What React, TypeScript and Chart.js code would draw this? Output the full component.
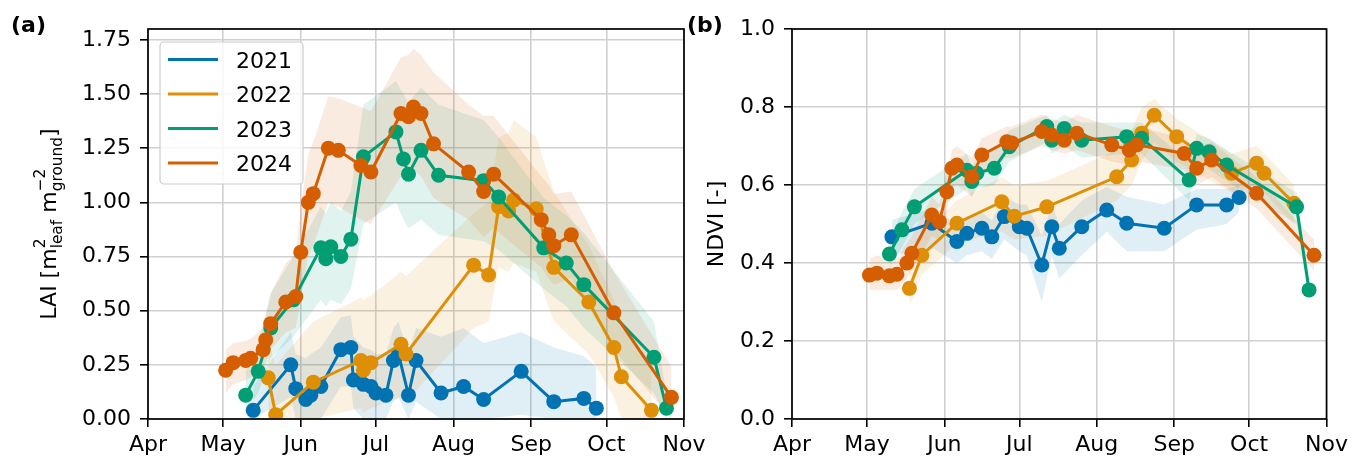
import React, { useEffect, useRef } from "react";
import { Chart, registerables } from "chart.js";

Chart.register(...registerables);

// ---------- axes ----------
const monthTickDays = [0, 30, 61, 91, 122, 153, 183, 214];
const monthTickLabels = ["Apr", "May", "Jun", "Jul", "Aug", "Sep", "Oct", "Nov"];
const laiTickValues = [0, 0.25, 0.5, 0.75, 1.0, 1.25, 1.5, 1.75];
const ndviTickValues = [0, 0.2, 0.4, 0.6, 0.8, 1.0];
const years = ["2021", "2022", "2023", "2024"];
const colors = ["#0173B2", "#DE8F05", "#029E73", "#D55E00"];

// ---------- (a) LAI ----------
const lai2021Dates = ["05-13", "05-28", "05-30", "06-03", "06-05", "06-09", "06-17", "06-21", "06-22", "06-26", "06-29", "07-01", "07-05", "07-08", "07-10", "07-14", "07-17", "07-27", "08-05", "08-13", "08-28", "09-10", "09-22", "09-27"];
const lai2021 = [0.04, 0.25, 0.14, 0.09, 0.11, 0.15, 0.32, 0.33, 0.18, 0.16, 0.15, 0.12, 0.11, 0.27, 0.30, 0.11, 0.27, 0.12, 0.15, 0.09, 0.22, 0.08, 0.095, 0.05];
const lai2021Lo = [0.0, 0.1, 0.0, 0.0, 0.0, 0.0, 0.15, 0.15, 0.05, 0.0, 0.0, 0.0, 0.0, 0.08, 0.1, 0.0, 0.08, 0.0, 0.0, 0.0, 0.02, 0.0, 0.0, 0.0];
const lai2021Hi = [0.15, 0.40, 0.30, 0.28, 0.30, 0.33, 0.47, 0.48, 0.38, 0.33, 0.32, 0.30, 0.30, 0.42, 0.45, 0.30, 0.42, 0.38, 0.42, 0.35, 0.40, 0.33, 0.29, 0.24];

const lai2022Dates = ["05-19", "05-22", "06-06", "06-25", "06-26", "06-29", "07-11", "07-13", "08-09", "08-15", "08-19", "08-23", "08-25", "09-03", "09-10", "09-24", "10-04", "10-07", "10-19"];
const lai2022 = [0.19, 0.02, 0.17, 0.27, 0.225, 0.26, 0.345, 0.30, 0.71, 0.665, 0.98, 0.96, 1.01, 0.97, 0.70, 0.54, 0.33, 0.195, 0.04];
const lai2022Lo = [0.05, 0.0, 0.0, 0.05, 0.03, 0.05, 0.1, 0.08, 0.42, 0.45, 0.70, 0.68, 0.72, 0.68, 0.45, 0.30, 0.10, 0.0, 0.0];
const lai2022Hi = [0.35, 0.25, 0.45, 0.56, 0.55, 0.57, 0.68, 0.66, 0.95, 1.00, 1.30, 1.32, 1.38, 1.30, 1.05, 0.80, 0.55, 0.45, 0.22];

const lai2023Dates = ["05-10", "05-15", "05-20", "05-29", "06-09", "06-11", "06-13", "06-17", "06-21", "06-26", "07-09", "07-12", "07-14", "07-19", "07-26", "08-13", "08-19", "09-06", "09-15", "09-22", "10-20", "10-25"];
const lai2023 = [0.11, 0.22, 0.42, 0.55, 0.79, 0.74, 0.795, 0.75, 0.83, 1.21, 1.325, 1.20, 1.13, 1.24, 1.125, 1.10, 1.025, 0.79, 0.72, 0.62, 0.285, 0.05];
const lai2023Lo = [0.03, 0.12, 0.28, 0.38, 0.55, 0.52, 0.55, 0.53, 0.60, 0.90, 1.00, 0.92, 0.88, 0.92, 0.85, 0.82, 0.78, 0.60, 0.52, 0.42, 0.12, 0.0];
const lai2023Hi = [0.22, 0.35, 0.58, 0.75, 0.98, 0.95, 1.00, 0.96, 1.05, 1.45, 1.56, 1.50, 1.46, 1.53, 1.45, 1.38, 1.30, 1.02, 0.94, 0.86, 0.45, 0.12];

const lai2024Dates = ["05-02", "05-05", "05-10", "05-12", "05-17", "05-18", "05-20", "05-26", "05-30", "06-01", "06-04", "06-06", "06-12", "06-16", "06-25", "06-29", "07-11", "07-14", "07-16", "07-19", "07-24", "08-07", "08-13", "08-17", "09-05", "09-08", "09-10", "09-17", "10-04", "10-27"];
const lai2024 = [0.225, 0.26, 0.27, 0.28, 0.32, 0.365, 0.44, 0.54, 0.565, 0.77, 1.00, 1.04, 1.25, 1.24, 1.17, 1.14, 1.41, 1.395, 1.44, 1.41, 1.27, 1.14, 1.05, 1.13, 0.92, 0.85, 0.80, 0.85, 0.49, 0.10];
const lai2024Lo = [0.12, 0.16, 0.18, 0.19, 0.22, 0.26, 0.32, 0.40, 0.42, 0.55, 0.75, 0.80, 1.00, 0.98, 0.92, 0.90, 1.12, 1.10, 1.15, 1.12, 1.02, 0.92, 0.84, 0.88, 0.70, 0.65, 0.62, 0.65, 0.32, 0.0];
const lai2024Hi = [0.32, 0.35, 0.36, 0.37, 0.42, 0.47, 0.58, 0.72, 0.76, 0.98, 1.22, 1.28, 1.49, 1.48, 1.44, 1.42, 1.67, 1.68, 1.71, 1.68, 1.60, 1.45, 1.40, 1.40, 1.12, 1.08, 1.04, 1.05, 0.68, 0.24];

// ---------- (b) NDVI ----------
const ndvi2021Dates = ["05-11", "05-27", "06-06", "06-10", "06-16", "06-20", "06-25", "07-01", "07-04", "07-10", "07-14", "07-17", "07-26", "08-05", "08-13", "08-28", "09-10", "09-22", "09-27"];
const ndvi2021 = [0.467, 0.502, 0.455, 0.476, 0.489, 0.467, 0.519, 0.493, 0.489, 0.395, 0.493, 0.438, 0.493, 0.536, 0.502, 0.489, 0.549, 0.549, 0.568];
const ndvi2021Lo = [0.42, 0.44, 0.40, 0.42, 0.43, 0.41, 0.46, 0.43, 0.42, 0.30, 0.42, 0.36, 0.42, 0.48, 0.43, 0.43, 0.485, 0.50, 0.53];
const ndvi2021Hi = [0.51, 0.54, 0.50, 0.52, 0.53, 0.51, 0.57, 0.55, 0.55, 0.47, 0.55, 0.50, 0.56, 0.595, 0.57, 0.55, 0.59, 0.59, 0.60];

const ndvi2022Dates = ["05-18", "05-23", "06-06", "06-24", "06-29", "07-12", "08-09", "08-15", "08-19", "08-24", "09-02", "09-24", "10-04", "10-07", "10-19"];
const ndvi2022 = [0.335, 0.42, 0.502, 0.557, 0.52, 0.544, 0.621, 0.664, 0.733, 0.779, 0.724, 0.63, 0.656, 0.63, 0.553];
const ndvi2022Lo = [0.29, 0.37, 0.45, 0.48, 0.46, 0.47, 0.56, 0.60, 0.66, 0.71, 0.66, 0.58, 0.60, 0.58, 0.50];
const ndvi2022Hi = [0.38, 0.47, 0.56, 0.62, 0.60, 0.61, 0.69, 0.74, 0.80, 0.82, 0.77, 0.68, 0.70, 0.68, 0.60];

const ndvi2023Dates = ["05-10", "05-15", "05-20", "06-10", "06-12", "06-14", "06-21", "06-27", "07-12", "07-14", "07-19", "07-26", "08-13", "08-19", "09-07", "09-10", "09-15", "09-22", "10-20", "10-25"];
const ndvi2023 = [0.423, 0.485, 0.544, 0.638, 0.609, 0.63, 0.643, 0.698, 0.75, 0.715, 0.745, 0.715, 0.724, 0.72, 0.613, 0.694, 0.685, 0.651, 0.544, 0.331];
const ndvi2023Lo = [0.39, 0.44, 0.50, 0.59, 0.57, 0.59, 0.60, 0.66, 0.71, 0.68, 0.70, 0.67, 0.68, 0.68, 0.56, 0.65, 0.64, 0.61, 0.50, 0.31];
const ndvi2023Hi = [0.46, 0.53, 0.59, 0.68, 0.65, 0.67, 0.69, 0.74, 0.78, 0.76, 0.78, 0.76, 0.76, 0.76, 0.66, 0.73, 0.72, 0.69, 0.58, 0.36];

const ndvi2024Dates = ["05-02", "05-05", "05-10", "05-13", "05-17", "05-19", "05-27", "05-30", "06-02", "06-04", "06-06", "06-12", "06-16", "06-26", "06-28", "07-10", "07-14", "07-19", "07-24", "08-07", "08-14", "08-17", "09-05", "09-10", "09-16", "10-04", "10-27"];
const ndvi2024 = [0.369, 0.374, 0.367, 0.371, 0.40, 0.425, 0.523, 0.506, 0.583, 0.643, 0.651, 0.621, 0.677, 0.711, 0.708, 0.737, 0.728, 0.715, 0.733, 0.703, 0.69, 0.703, 0.681, 0.643, 0.664, 0.579, 0.42];
const ndvi2024Lo = [0.33, 0.33, 0.33, 0.33, 0.36, 0.38, 0.47, 0.46, 0.53, 0.59, 0.60, 0.57, 0.63, 0.67, 0.67, 0.70, 0.69, 0.68, 0.69, 0.66, 0.65, 0.66, 0.64, 0.60, 0.62, 0.54, 0.38];
const ndvi2024Hi = [0.41, 0.42, 0.41, 0.41, 0.45, 0.47, 0.57, 0.55, 0.63, 0.69, 0.70, 0.67, 0.72, 0.75, 0.75, 0.78, 0.77, 0.76, 0.78, 0.75, 0.74, 0.75, 0.72, 0.69, 0.71, 0.62, 0.46];

// ---------- helpers ----------
const MONTH_START: Record<string, number> = { "04": 0, "05": 30, "06": 61, "07": 91, "08": 122, "09": 153, "10": 183, "11": 214 };
const toDay = (s: string) => MONTH_START[s.slice(0, 2)] + parseInt(s.slice(3), 10) - 1;

const FONT = "'DejaVu Sans', 'Liberation Sans', sans-serif";

function withAlpha(hex: string, a: number) {
  const r = parseInt(hex.slice(1, 3), 16);
  const g = parseInt(hex.slice(3, 5), 16);
  const b = parseInt(hex.slice(5, 7), 16);
  return `rgba(${r},${g},${b},${a})`;
}

type Series = { dates: string[]; values: number[]; lo: number[]; hi: number[] };

function buildDatasets(series: Series[]) {
  const ds: any[] = [];
  series.forEach((s, i) => {
    const xs = s.dates.map(toDay);
    ds.push({
      label: years[i] + " lo",
      data: xs.map((x, j) => ({ x, y: s.lo[j] })),
      borderWidth: 0,
      pointRadius: 0,
      fill: false,
      order: 20 - i,
    });
    ds.push({
      label: years[i] + " hi",
      data: xs.map((x, j) => ({ x, y: s.hi[j] })),
      borderWidth: 0,
      pointRadius: 0,
      fill: "-1",
      backgroundColor: withAlpha(colors[i], 0.12),
      order: 20 - i,
    });
  });
  series.forEach((s, i) => {
    const xs = s.dates.map(toDay);
    ds.push({
      label: years[i],
      data: xs.map((x, j) => ({ x, y: s.values[j] })),
      borderColor: colors[i],
      backgroundColor: colors[i],
      pointBackgroundColor: colors[i],
      pointBorderWidth: 0,
      pointRadius: 7.5,
      pointHoverRadius: 7.5,
      borderWidth: 3,
      fill: false,
      tension: 0,
      order: 4 - i,
    });
  });
  return ds;
}

function makeOptions(o: { yMax: number; yTicks: number[]; decimals: number; yWidth: number; rightPad: number }) {
  const tickFont = { family: FONT, size: 22 };
  return {
    responsive: false,
    maintainAspectRatio: false,
    animation: false as const,
    devicePixelRatio: 1,
    events: [],
    layout: { padding: { top: 29, right: o.rightPad, left: 0, bottom: 0 } },
    plugins: { legend: { display: false }, tooltip: { enabled: false } },
    scales: {
      x: {
        type: "linear" as const,
        min: 0,
        max: 214,
        afterBuildTicks: (s: any) => {
          s.ticks = monthTickDays.map((v) => ({ value: v }));
        },
        afterFit: (s: any) => {
          s.height = 39;
        },
        ticks: {
          callback: (_v: any, i: number) => monthTickLabels[i],
          autoSkip: false,
          maxRotation: 0,
          font: tickFont,
          color: "#000",
          padding: 5,
        },
        grid: { color: "#d0d0d0", lineWidth: 1.6, tickLength: 8, tickColor: "#000", tickWidth: 1.6 },
        border: { display: false },
      },
      y: {
        type: "linear" as const,
        min: 0,
        max: o.yMax,
        afterBuildTicks: (s: any) => {
          s.ticks = o.yTicks.map((v) => ({ value: v }));
        },
        afterFit: (s: any) => {
          s.width = o.yWidth;
        },
        ticks: {
          callback: (v: any) => Number(v).toFixed(o.decimals),
          font: tickFont,
          color: "#000",
          padding: 9,
        },
        grid: { color: "#d0d0d0", lineWidth: 1.6, tickLength: 8, tickColor: "#000", tickWidth: 1.6 },
        border: { display: false },
      },
    },
  };
}

function drawFrame(chart: any) {
  const { ctx, chartArea } = chart;
  const { left, right, top, bottom } = chartArea;
  ctx.save();
  ctx.strokeStyle = "#000";
  ctx.lineWidth = 1.7;
  ctx.strokeRect(left, top, right - left, bottom - top);
  ctx.restore();
}

function drawRotatedPieces(ctx: CanvasRenderingContext2D, cx: number, cy: number, pieces: any[]) {
  const big = `22px ${FONT}`;
  const small = `15.4px ${FONT}`;
  ctx.save();
  const widths = pieces.map((p) => {
    if (p.t !== undefined) {
      ctx.font = big;
      return ctx.measureText(p.t).width;
    }
    ctx.font = small;
    return Math.max(ctx.measureText(p.sup).width, ctx.measureText(p.sub).width);
  });
  const total = widths.reduce((a, b) => a + b, 0);
  ctx.translate(cx, cy);
  ctx.rotate(-Math.PI / 2);
  ctx.fillStyle = "#000";
  ctx.textBaseline = "alphabetic";
  ctx.textAlign = "left";
  let x = -total / 2;
  pieces.forEach((p, i) => {
    if (p.t !== undefined) {
      ctx.font = big;
      ctx.fillText(p.t, x, 0);
    } else {
      ctx.font = small;
      ctx.fillText(p.sup, x, -11);
      ctx.fillText(p.sub, x, 6);
    }
    x += widths[i];
  });
  ctx.restore();
}

const laiSeries: Series[] = [
  { dates: lai2021Dates, values: lai2021, lo: lai2021Lo, hi: lai2021Hi },
  { dates: lai2022Dates, values: lai2022, lo: lai2022Lo, hi: lai2022Hi },
  { dates: lai2023Dates, values: lai2023, lo: lai2023Lo, hi: lai2023Hi },
  { dates: lai2024Dates, values: lai2024, lo: lai2024Lo, hi: lai2024Hi },
];
const ndviSeries: Series[] = [
  { dates: ndvi2021Dates, values: ndvi2021, lo: ndvi2021Lo, hi: ndvi2021Hi },
  { dates: ndvi2022Dates, values: ndvi2022, lo: ndvi2022Lo, hi: ndvi2022Hi },
  { dates: ndvi2023Dates, values: ndvi2023, lo: ndvi2023Lo, hi: ndvi2023Hi },
  { dates: ndvi2024Dates, values: ndvi2024, lo: ndvi2024Lo, hi: ndvi2024Hi },
];

const decorA = {
  id: "decorA",
  afterDraw(chart: any) {
    const ctx: CanvasRenderingContext2D = chart.ctx;
    drawFrame(chart);
    // panel letter
    ctx.save();
    ctx.fillStyle = "#000";
    ctx.font = `bold 22px ${FONT}`;
    ctx.textBaseline = "alphabetic";
    ctx.fillText("(a)", 11, 32);
    ctx.restore();
    // y label with sub/superscripts
    drawRotatedPieces(ctx, 56, 224, [
      { t: "LAI [m" },
      { sup: "2", sub: "leaf" },
      { t: " m" },
      { sup: "\u22122", sub: "ground" },
      { t: "]" },
    ]);
    // legend
    const bx = 160, by = 42, bw = 143, bh = 142, r = 4;
    ctx.save();
    ctx.beginPath();
    ctx.moveTo(bx + r, by);
    ctx.lineTo(bx + bw - r, by);
    ctx.arcTo(bx + bw, by, bx + bw, by + r, r);
    ctx.lineTo(bx + bw, by + bh - r);
    ctx.arcTo(bx + bw, by + bh, bx + bw - r, by + bh, r);
    ctx.lineTo(bx + r, by + bh);
    ctx.arcTo(bx, by + bh, bx, by + bh - r, r);
    ctx.lineTo(bx, by + r);
    ctx.arcTo(bx, by, bx + r, by, r);
    ctx.closePath();
    ctx.fillStyle = "rgba(255,255,255,0.8)";
    ctx.fill();
    ctx.strokeStyle = "#cccccc";
    ctx.lineWidth = 1.2;
    ctx.stroke();
    ctx.font = `22px ${FONT}`;
    ctx.textBaseline = "alphabetic";
    years.forEach((yr, i) => {
      const ly = 59.5 + i * 34.5;
      ctx.strokeStyle = colors[i];
      ctx.lineWidth = 3;
      ctx.beginPath();
      ctx.moveTo(168, ly);
      ctx.lineTo(218, ly);
      ctx.stroke();
      ctx.fillStyle = "#000";
      ctx.fillText(yr, 236, ly + 8);
    });
    ctx.restore();
  },
};

const decorB = {
  id: "decorB",
  afterDraw(chart: any) {
    const ctx: CanvasRenderingContext2D = chart.ctx;
    drawFrame(chart);
    ctx.save();
    ctx.fillStyle = "#000";
    ctx.font = `bold 22px ${FONT}`;
    ctx.textBaseline = "alphabetic";
    ctx.fillText("(b)", 7, 32);
    ctx.translate(43, 224);
    ctx.rotate(-Math.PI / 2);
    ctx.font = `22px ${FONT}`;
    ctx.textAlign = "center";
    ctx.fillText("NDVI [-]", 0, 0);
    ctx.restore();
  },
};

export default function App() {
  const refA = useRef<HTMLCanvasElement>(null);
  const refB = useRef<HTMLCanvasElement>(null);

  useEffect(() => {
    const a = new Chart(refA.current as HTMLCanvasElement, {
      type: "line",
      data: { datasets: buildDatasets(laiSeries) },
      options: makeOptions({ yMax: 1.8, yTicks: laiTickValues, decimals: 2, yWidth: 148, rightPad: 36 }) as any,
      plugins: [decorA],
    });
    const b = new Chart(refB.current as HTMLCanvasElement, {
      type: "line",
      data: { datasets: buildDatasets(ndviSeries) },
      options: makeOptions({ yMax: 1.0, yTicks: ndviTickValues, decimals: 1, yWidth: 112, rightPad: 25 }) as any,
      plugins: [decorB],
    });
    return () => {
      a.destroy();
      b.destroy();
    };
  }, []);

  return (
    <div style={{ position: "absolute", left: 0, top: 0, width: 1353, height: 458, background: "#fff", overflow: "hidden" }}>
      <canvas ref={refA} width={720} height={458} style={{ position: "absolute", left: 0, top: 0, width: 720, height: 458 }} />
      <canvas ref={refB} width={673} height={458} style={{ position: "absolute", left: 680, top: 0, width: 673, height: 458 }} />
    </div>
  );
}
